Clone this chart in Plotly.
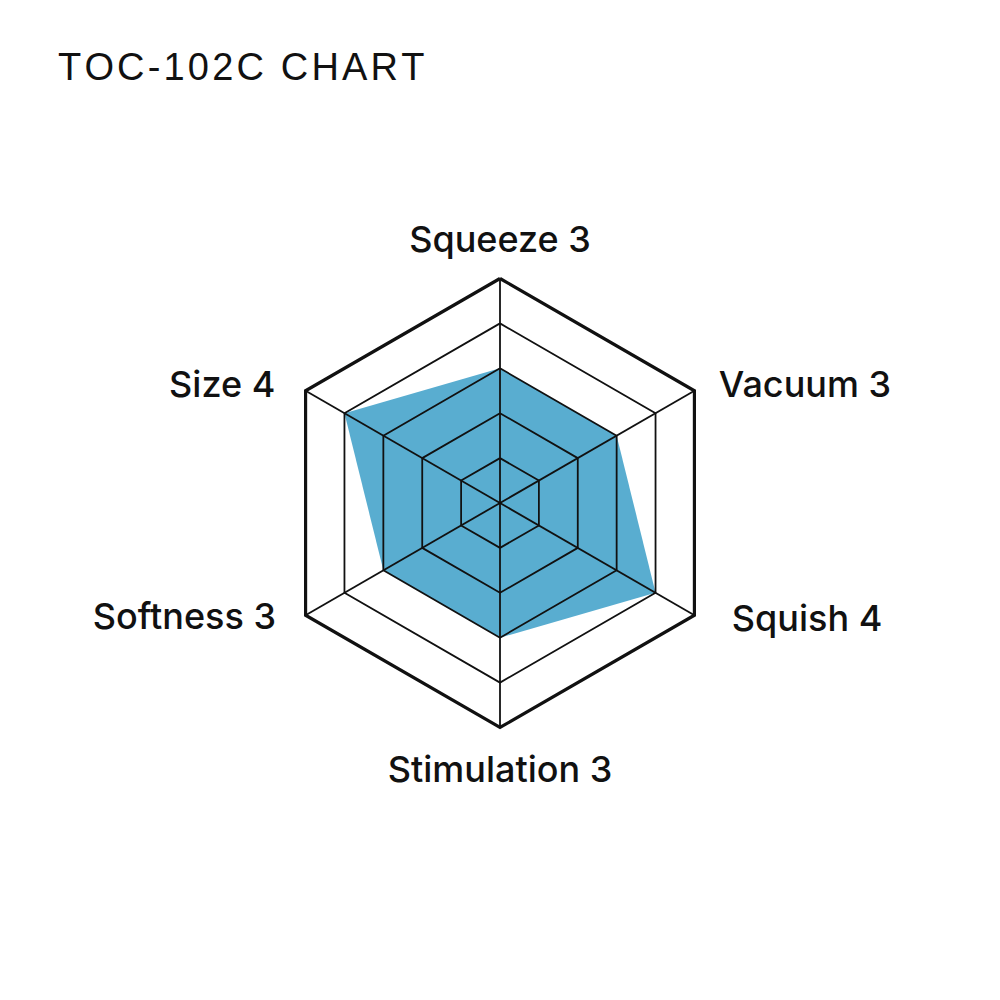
import plotly.graph_objects as go

categories = ["Squeeze", "Vacuum", "Squish", "Stimulation", "Softness", "Size"]
values = [3, 3, 4, 3, 3, 4]
levels = [1, 2, 3, 4, 5]
title_text = "TOC-102C CHART"

labels = [f"{c} {v}" for c, v in zip(categories, values)]
spaced_title = "\u200a".join(title_text)

# label placement styles (radius in axis units, text side, invisible-marker size for offset)
label_r = [4.95, 5.12, 5.31, 5.18, 5.22, 5.11]
label_pos = ["top center", "middle right", "middle right", "bottom center", "middle left", "middle left"]
label_pad = [30, 30, 39, 30, 32, 40]

INK = "#111111"
BLUE = "#59ADD0"
R_MAX = 5.4          # radial range kept a little beyond the outer ring
PX_PER_UNIT = 44.9   # pixel size of one level
CX, CY = 492, 495    # polar centre in figure pixels
half = R_MAX * PX_PER_UNIT / 1000

fig = go.Figure()

# data polygon
fig.add_trace(go.Scatterpolar(
    r=values + values[:1],
    theta=categories + categories[:1],
    mode="lines",
    fill="toself",
    fillcolor=BLUE,
    line=dict(width=0, color=BLUE),
    hoverinfo="skip",
))

# grid rings drawn above the fill
top = max(levels)
for lvl in levels:
    fig.add_trace(go.Scatterpolar(
        r=[lvl] * (len(categories) + 1),
        theta=categories + categories[:1],
        mode="lines",
        line=dict(color=INK, width=3.2 if lvl == top else 1.8),
        hoverinfo="skip",
    ))

# spokes
for c in categories:
    fig.add_trace(go.Scatterpolar(
        r=[0, top],
        theta=[c, c],
        mode="lines",
        line=dict(color=INK, width=1.8),
        hoverinfo="skip",
    ))

# category labels
fig.add_trace(go.Scatterpolar(
    r=label_r,
    theta=categories,
    mode="markers+text",
    text=labels,
    textposition=label_pos,
    marker=dict(size=label_pad, opacity=0),
    textfont=dict(family="Inter, Liberation Sans, sans-serif", size=36, color=INK, weight=500),
    hoverinfo="skip",
    cliponaxis=False,
))

fig.update_layout(
    width=1000, height=1000,
    margin=dict(l=0, r=0, t=0, b=0),
    paper_bgcolor="white",
    plot_bgcolor="white",
    showlegend=False,
    title=dict(
        text=spaced_title,
        x=0.050, xanchor="left", xref="paper",
        y=0.9416, yanchor="middle", yref="paper",
        font=dict(family="Liberation Sans, Arial, sans-serif", size=38, color=INK),
    ),
    polar=dict(
        domain=dict(x=[CX / 1000 - half, CX / 1000 + half],
                    y=[1 - CY / 1000 - half, 1 - CY / 1000 + half]),
        bgcolor="white",
        gridshape="linear",
        radialaxis=dict(
            range=[0, R_MAX], showticklabels=False, ticks="",
            showline=False, showgrid=False,
        ),
        angularaxis=dict(
            direction="clockwise", rotation=90,
            categoryorder="array", categoryarray=categories,
            showticklabels=False, ticks="",
            showline=False, showgrid=False,
        ),
    ),
)

fig.write_html("out.html")
